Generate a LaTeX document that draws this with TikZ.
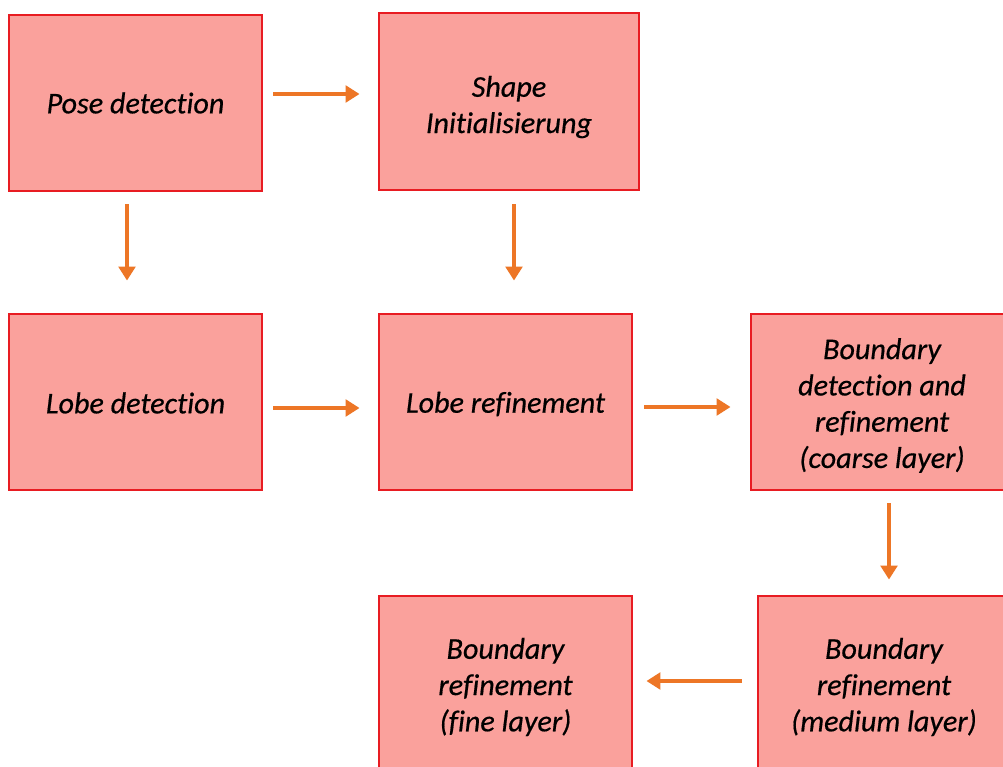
\documentclass[tikz,border=0pt]{standalone}
\usepackage{fontspec}
\setmainfont{Carlito}[Ligatures=NoCommon,ItalicFeatures={FakeBold=0.5}]
\usetikzlibrary{arrows.meta}
\definecolor{boxfill}{RGB}{250,161,156}
\definecolor{boxline}{RGB}{232,28,34}
\definecolor{arrcol}{RGB}{237,118,38}
\begin{document}
\begin{tikzpicture}[x=0.75pt,y=-0.75pt,
  stepbox/.style={draw=boxline,fill=boxfill,line width=2.2pt,inner sep=0pt},
  steptext/.style={align=center,inner sep=0pt,
    font=\itshape\fontsize{22.6}{27.2}\selectfont,text=black},
  arr/.style={draw=arrcol,line width=3.2pt,-{Triangle[width=12.5pt,length=10.5pt]}}]
\path[use as bounding box] (0,0) rectangle (1003,767);
\clip (0,0) rectangle (1003,767);
\fill[white] (0,0) rectangle (1003,767);
\node[stepbox,minimum width=253*0.75pt,minimum height=176*0.75pt] (pose) at (135.5,103) {};
\node[stepbox,minimum width=260*0.75pt,minimum height=177*0.75pt] (shape) at (509,101.5) {};
\node[stepbox,minimum width=253*0.75pt,minimum height=176*0.75pt] (lobed) at (135.5,402) {};
\node[stepbox,minimum width=253*0.75pt,minimum height=176*0.75pt] (lober) at (505.5,402) {};
\node[stepbox,minimum width=262*0.75pt,minimum height=176*0.75pt] (coarse) at (882,402) {};
\node[stepbox,minimum width=252*0.75pt,minimum height=178*0.75pt] (medium) at (884,685) {};
\node[stepbox,minimum width=253*0.75pt,minimum height=178*0.75pt] (fine) at (505.5,685) {};
\node[steptext] (poseT) at (135.5,103) {Pose detection};
\node[steptext] (shapeT) at (509,107) {Shape\\Initialisierung};
\node[steptext] (lobedT) at (135.5,403) {Lobe detection};
\node[steptext] (loberT) at (505.5,404) {Lobe refinement};
\node[steptext] (coarseT) at (882,405.5) {Boundary\\detection and\\refinement\\(coarse layer)};
\node[steptext] (mediumT) at (884,687) {Boundary\\refinement\\(medium layer)};
\node[steptext] (fineT) at (505.5,687) {Boundary\\refinement\\(fine layer)};
\draw[arr,shorten <=7.5pt,shorten >=13.5pt] ([shift={(0,-9)}]pose.east) -- ([shift={(0,-7.5)}]shape.west);
\draw[arr,shorten <=9pt,shorten >=24pt] ([shift={(-8.5,0)}]pose.south) -- ([shift={(-8.5,0)}]lobed.north);
\draw[arr,shorten <=9.75pt,shorten >=24pt] ([shift={(5,0)}]shape.south) -- ([shift={(8.5,0)}]lober.north);
\draw[arr,shorten <=7.5pt,shorten >=13.5pt] ([shift={(0,6)}]lobed.east) -- ([shift={(0,6)}]lober.west);
\draw[arr,shorten <=8.25pt,shorten >=14.25pt] ([shift={(0,5)}]lober.east) -- ([shift={(0,5)}]coarse.west);
\draw[arr,shorten <=9pt,shorten >=11.25pt] ([shift={(7,0)}]coarse.south) -- ([shift={(5,0)}]medium.north);
\draw[arr,shorten <=11.25pt,shorten >=9.75pt] ([shift={(0,-4)}]medium.west) -- ([shift={(0,-4)}]fine.east);
\end{tikzpicture}
\end{document}
